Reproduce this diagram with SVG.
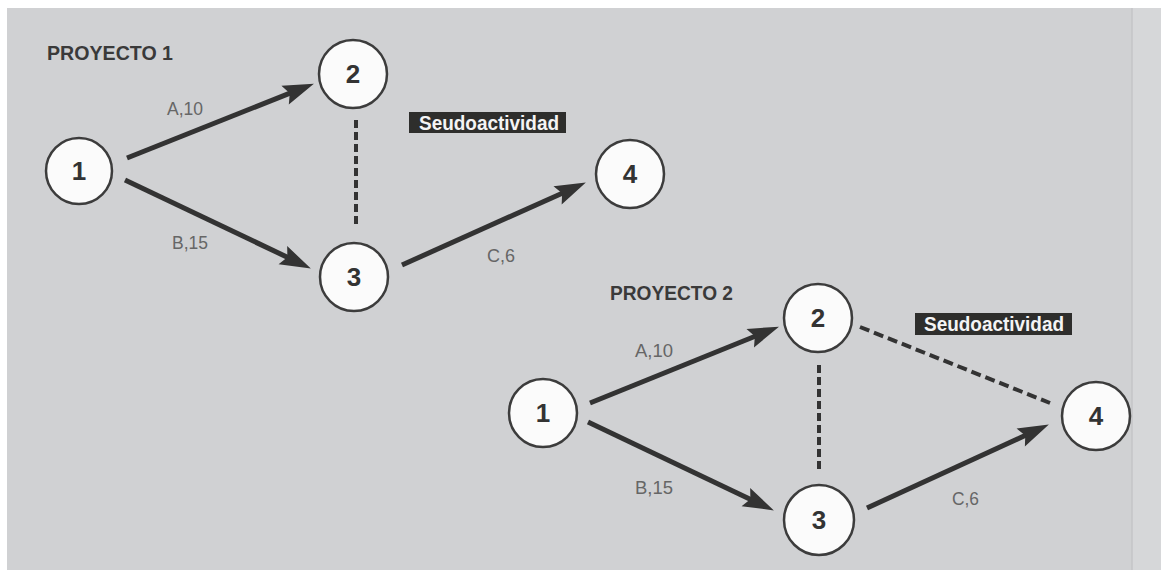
<svg xmlns="http://www.w3.org/2000/svg" width="1161" height="575" viewBox="0 0 1161 575">
  <style>
    .node circle { fill: #fbfbfb; stroke: #3c3c3c; stroke-width: 2.5; }
    .node text { font-family: "Liberation Sans", Arial, sans-serif; font-weight: bold; font-size: 26px; fill: #333; text-anchor: middle; }
    .arrow { fill: none; stroke: #333; stroke-width: 5; marker-end: url(#head); }
    .dummy { fill: none; stroke: #333; stroke-width: 4; stroke-dasharray: 8 4; }
    .dummy.diag { stroke-dasharray: 10 5; }
    .label { font-family: "Liberation Sans", Arial, sans-serif; font-size: 18px; fill: #666; }
    .title { font-family: "Liberation Sans", Arial, sans-serif; font-weight: bold; font-size: 21px; fill: #3a3a3a; }
    .tag rect { fill: #2e2e2c; }
    .tag text { font-family: "Liberation Sans", Arial, sans-serif; font-weight: bold; font-size: 20px; fill: #f4f4f4; }
  </style>
  <defs>
    <marker id="head" markerUnits="userSpaceOnUse" markerWidth="32" markerHeight="20" refX="10" refY="10" orient="auto" overflow="visible">
      <path d="M0,0 L31,10 L0,20 L5,10 Z" fill="#333"/>
    </marker>
  </defs>

  <!-- page background -->
  <rect x="0" y="0" width="1161" height="575" fill="#ffffff"/>
  <rect x="7" y="8" width="1154" height="562" fill="#d0d1d3"/>
  <rect x="1132" y="8" width="29" height="562" fill="#d6d7d9"/>
  <line x1="1132" y1="8" x2="1132" y2="570" stroke="#c4c5c7" stroke-width="1.5"/>

  <!-- titles -->
  <text class="title" x="47" y="60" textLength="126" lengthAdjust="spacingAndGlyphs">PROYECTO 1</text>
  <text class="title" x="610" y="300" textLength="123" lengthAdjust="spacingAndGlyphs">PROYECTO 2</text>

  <!-- connectors -->
  <g id="connectors">
    <!-- project 1 -->
    <path class="arrow" d="M127,158 L294.4,91.4"/>
    <path class="arrow" d="M125,180 L291.9,259.4"/>
    <path class="arrow" d="M402,265 L566.7,191.2"/>
    <path class="dummy" d="M356,120 L356,228"/>
    <!-- project 2 -->
    <path class="arrow" d="M590,403 L759.5,334.5"/>
    <path class="arrow" d="M588,422 L754.9,501.4"/>
    <path class="arrow" d="M867,508 L1029.8,433.3"/>
    <path class="dummy" d="M819,365 L819,472"/>
    <path class="dummy diag" d="M860,327 L1050,403"/>
  </g>

  <!-- activity labels -->
  <g id="labels">
    <text class="label" x="167" y="115" textLength="36" lengthAdjust="spacingAndGlyphs">A,10</text>
    <text class="label" x="172" y="249" textLength="36" lengthAdjust="spacingAndGlyphs">B,15</text>
    <text class="label" x="487" y="262" textLength="28" lengthAdjust="spacingAndGlyphs">C,6</text>
    <text class="label" x="635" y="357" textLength="38" lengthAdjust="spacingAndGlyphs">A,10</text>
    <text class="label" x="635" y="494" textLength="38" lengthAdjust="spacingAndGlyphs">B,15</text>
    <text class="label" x="952" y="505" textLength="27" lengthAdjust="spacingAndGlyphs">C,6</text>
  </g>

  <!-- dummy activity tags -->
  <g id="tag-p1" class="tag">
    <rect x="409" y="112" width="157" height="21"/>
    <text x="419" y="129.5" textLength="140" lengthAdjust="spacingAndGlyphs">Seudoactividad</text>
  </g>
  <g id="tag-p2" class="tag">
    <rect x="915" y="313" width="157" height="22"/>
    <text x="924" y="330.5" textLength="140" lengthAdjust="spacingAndGlyphs">Seudoactividad</text>
  </g>

  <!-- project 1 nodes -->
  <g id="p1-n1" class="node"><circle cx="79" cy="171" r="33"/><text x="79" y="180">1</text></g>
  <g id="p1-n2" class="node"><circle cx="353" cy="74" r="34"/><text x="353" y="83">2</text></g>
  <g id="p1-n3" class="node"><circle cx="354" cy="277" r="34"/><text x="354" y="286">3</text></g>
  <g id="p1-n4" class="node"><circle cx="630" cy="174" r="34"/><text x="630" y="183">4</text></g>

  <!-- project 2 nodes -->
  <g id="p2-n1" class="node"><circle cx="543" cy="413" r="34"/><text x="543" y="422">1</text></g>
  <g id="p2-n2" class="node"><circle cx="818" cy="318" r="34"/><text x="818" y="327">2</text></g>
  <g id="p2-n3" class="node"><circle cx="819" cy="520" r="35"/><text x="819" y="529">3</text></g>
  <g id="p2-n4" class="node"><circle cx="1096" cy="416" r="34"/><text x="1096" y="425">4</text></g>
</svg>
